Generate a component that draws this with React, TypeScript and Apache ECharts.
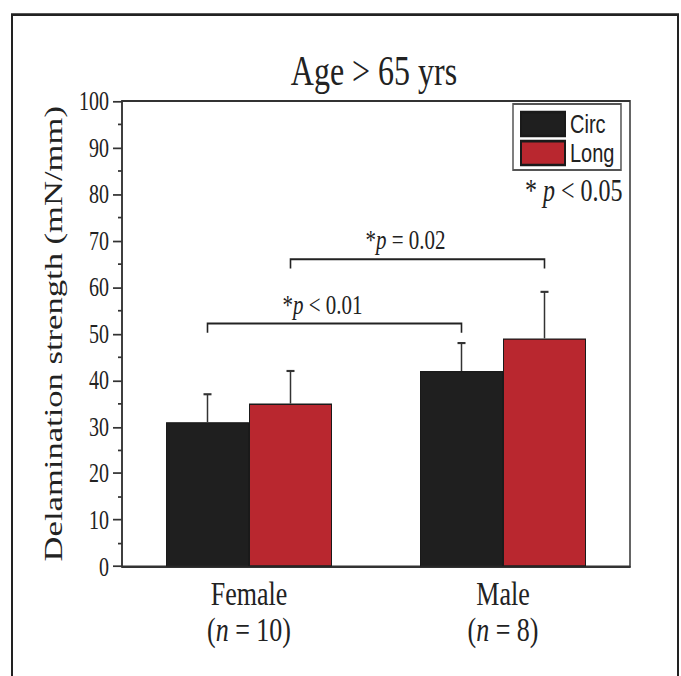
import React, { useEffect, useRef } from "react";
import * as echarts from "echarts";

// ---- data ----
const categories = ["Female", "Male"];
const groupSizes = [10, 8];
const seriesNames = ["Circ", "Long"];
const circMeans = [31, 42];
const circSD = [6, 6];
const longMeans = [35, 49];
const longSD = [7, 10];
// significance brackets: both ends on the same series (0 = Circ, 1 = Long), Female -> Male
const bracketSeries = [0, 1];
const bracketLevels = [52.2, 66];
const bracketPText = ["< 0.01", "= 0.02"];
const legendNote = "< 0.05";

// The original figure is stretched vertically; reproduce the stretch.
const W = 681;
const H = 508;
const S = 676 / H;

const serif = '"Liberation Serif", "Times New Roman", Times, serif';
const sans = '"Liberation Sans", Arial, Helvetica, sans-serif';
const ink = "#222";
const BAR_W = 83;
const offsets = [-BAR_W / 2, BAR_W / 2];
const barColors = ["#1f1f1f", "#b9272f"];

export default function App() {
  const ref = useRef<HTMLDivElement>(null);
  useEffect(() => {
    if (!ref.current) return;
    const chart = echarts.init(ref.current, undefined, { renderer: "svg" });

    const means = [circMeans, longMeans];
    const sds = [circSD, longSD];

    const barSeries = seriesNames.map((name, s) => ({
      name,
      type: "bar",
      data: means[s],
      barWidth: BAR_W,
      barGap: "0%",
      itemStyle: { color: barColors[s], borderColor: "#1a1a1a", borderWidth: 1 },
      z: 2,
    }));

    const errSeries = seriesNames.map((name, s) => ({
      name: name + " SD",
      type: "custom",
      z: 3,
      data: categories.map((_, i) => [i, means[s][i], sds[s][i]]),
      renderItem: (_p: any, api: any) => {
        const cat = api.value(0);
        const m = api.value(1);
        const sd = api.value(2);
        const b = api.coord([cat, m]);
        const t = api.coord([cat, m + sd]);
        const x = b[0] + offsets[s];
        return {
          type: "group",
          children: [
            { type: "line", shape: { x1: x, y1: b[1], x2: x, y2: t[1] }, style: { stroke: "#333", lineWidth: 1.5 } },
            { type: "line", shape: { x1: x - 4, y1: t[1], x2: x + 4, y2: t[1] }, style: { stroke: "#333", lineWidth: 1.6 } },
          ],
        };
      },
    }));

    const bracketSer = {
      name: "brackets",
      type: "custom",
      z: 4,
      data: bracketLevels.map((lvl, i) => [bracketSeries[i], lvl, i]),
      renderItem: (_p: any, api: any) => {
        const s = api.value(0);
        const lvl = api.value(1);
        const idx = api.value(2);
        const p1 = api.coord([0, lvl]);
        const p2 = api.coord([1, lvl]);
        const drop = api.coord([0, lvl - 2])[1];
        const ly = api.coord([0, lvl + 4.2])[1];
        const x1 = p1[0] + offsets[s];
        const x2 = p2[0] + offsets[s];
        return {
          type: "group",
          children: [
            {
              type: "polyline",
              shape: { points: [[x1, drop], [x1, p1[1]], [x2, p1[1]], [x2, drop]] },
              style: { stroke: ink, lineWidth: 1.6, fill: "none" },
            },
            {
              type: "text",
              x: (x1 + x2) / 2 - 12,
              y: ly,
              style: {
                text: "{a|*}{i|p}{a| " + bracketPText[idx] + "}",
                align: "center",
                verticalAlign: "middle",
                fontFamily: serif,
                fontSize: 21,
                fill: ink,
                rich: {
                  a: { fontFamily: serif, fontSize: 21, fill: ink, color: ink },
                  i: { fontFamily: serif, fontSize: 21, fontStyle: "italic", fill: ink, color: ink },
                },
              },
            },
          ],
        };
      },
    };

    const option: any = {
      animation: false,
      backgroundColor: "#fff",
      title: {
        text: "Age > 65 yrs",
        left: 374,
        top: 37,
        textAlign: "center",
        padding: 0,
        textStyle: { fontFamily: serif, fontSize: 32, fontWeight: "normal", color: ink },
      },
      legend: {
        data: seriesNames,
        orient: "vertical",
        left: 513,
        top: 78.2,
        padding: [5, 6.5, 2.8, 7],
        itemWidth: 44,
        itemHeight: 18,
        itemGap: 1.8,
        icon: "rect",
        borderColor: "#555",
        borderWidth: 1.5,
        textStyle: { fontFamily: sans, fontSize: 20, color: ink, lineHeight: 18 },
      },
      grid: { left: 122, right: 51, top: 75.9, bottom: 82.3, show: true, borderColor: "#333", borderWidth: 1.5 },
      xAxis: {
        type: "category",
        data: categories,
        axisLine: { lineStyle: { color: "#333", width: 1.5 } },
        axisTick: { show: false },
        axisLabel: {
          margin: 7,
          fontFamily: serif,
          fontSize: 26,
          color: ink,
          lineHeight: 27,
          formatter: (v: string, i: number) => `${v}\n({i|n} = ${groupSizes[i]})`,
          rich: { i: { fontFamily: serif, fontSize: 26, fontStyle: "italic", color: ink, lineHeight: 27 } },
        },
      },
      yAxis: {
        type: "value",
        min: 0,
        max: 100,
        interval: 10,
        name: "Delamination strength (mN/mm)",
        nameLocation: "middle",
        nameGap: 55,
        nameTextStyle: { fontFamily: serif, fontSize: 26, color: ink },
        axisLine: { show: true, lineStyle: { color: "#333", width: 1.5 } },
        axisTick: { show: true, length: 9, lineStyle: { color: "#333", width: 1.3 } },
        minorTick: { show: true, splitNumber: 2, length: 4, lineStyle: { color: "#333", width: 1.3 } },
        splitLine: { show: false },
        axisLabel: { margin: 13, fontFamily: serif, fontSize: 20, color: ink },
      },
      graphic: [
        {
          type: "rect",
          silent: true,
          shape: { x: 12, y: 11, width: 666, height: 540 },
          style: { fill: "none", stroke: ink, lineWidth: 2 },
        },
        {
          type: "text",
          x: 525,
          y: 142.8,
          style: {
            text: "{a|* }{i|p}{a| " + legendNote + "}",
            verticalAlign: "middle",
            fontFamily: serif,
            fontSize: 24,
            fill: ink,
            rich: {
              a: { fontFamily: serif, fontSize: 24, fill: ink, color: ink },
              i: { fontFamily: serif, fontSize: 24, fontStyle: "italic", fill: ink, color: ink },
            },
          },
        },
      ],
      series: [...barSeries, ...errSeries, bracketSer],
    };
    chart.setOption(option);
    return () => chart.dispose();
  }, []);

  return (
    <div
      ref={ref}
      style={{
        position: "fixed",
        left: 0,
        top: 0,
        width: W,
        height: H,
        transform: `scaleY(${S})`,
        transformOrigin: "0 0",
        background: "#fff",
      }}
    />
  );
}
